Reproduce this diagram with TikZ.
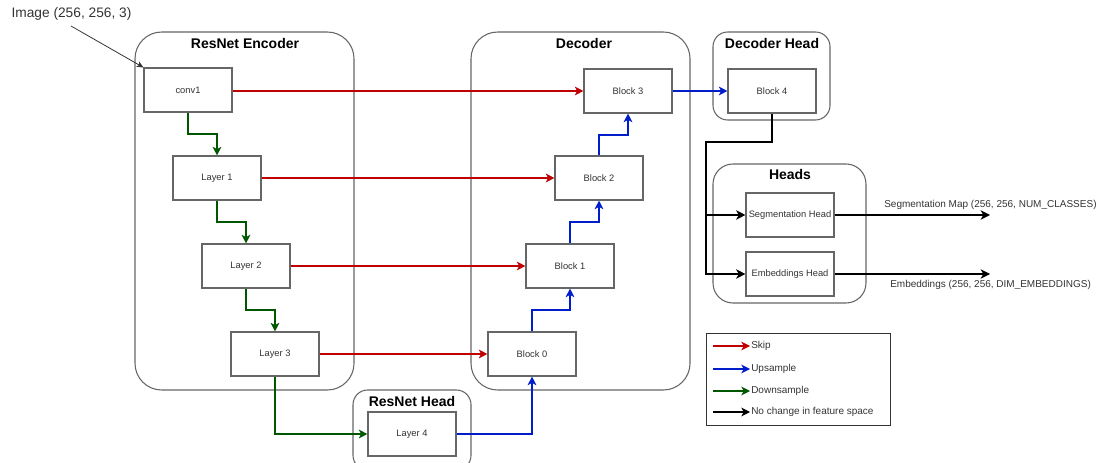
\documentclass[tikz,border=0pt]{standalone}
\usepackage{fontspec}
\setmainfont{Liberation Sans}
\usetikzlibrary{arrows.meta}
\definecolor{skipred}{HTML}{C00000}
\definecolor{upblue}{HTML}{001DCC}
\definecolor{downgreen}{HTML}{005700}
\definecolor{edge}{HTML}{666666}
\tikzset{
  block/.style={draw=edge, line width=0.8pt, fill=white, minimum width=66pt, minimum height=33pt,
    inner sep=0pt, font=\fontsize{7}{8}\selectfont, text=black!80},
  group/.style={draw=edge, line width=0.8pt, inner sep=0pt},
  title/.style={font=\fontsize{10.5}{12}\selectfont\bfseries, inner sep=0pt},
  label/.style={font=\fontsize{7.5}{9}\selectfont, text=black!80, inner sep=0pt},
  tip/.style={-{Stealth[length=6.5pt,width=6.5pt,inset=1.8pt]}},
  skip/.style={tip, draw=skipred, line width=1.1pt},
  up/.style={tip, draw=upblue, line width=1.1pt},
  down/.style={tip, draw=downgreen, line width=1.1pt},
  same/.style={-{Stealth[length=7pt,width=7pt,inset=2pt]}, draw=black, line width=1.5pt},
}
\begin{document}
\begin{tikzpicture}[x=0.75pt, y=-0.75pt]
\useasboundingbox (0,0) rectangle (1106,463);

% group containers
\node[group, rounded corners=20pt, minimum width=164.25pt, minimum height=268.5pt] (enc) at (244.5,211) {};
\node[group, rounded corners=20pt, minimum width=164.25pt, minimum height=268.5pt] (dec) at (580.5,211) {};
\node[group, rounded corners=11pt, minimum width=87.75pt, minimum height=66pt] (dhead) at (771.5,76) {};
\node[group, rounded corners=15pt, minimum width=114.75pt, minimum height=104.25pt] (heads) at (789.5,233.5) {};
\node[group, rounded corners=11pt, minimum width=88.5pt, minimum height=60pt] (rhead) at (412,430) {};

\node[title] (enct) at (245,43) {ResNet Encoder};
\node[title] (dect) at (584,43) {Decoder};
\node[title] (dheadt) at (772,43) {Decoder Head};
\node[title] (headst) at (790,174) {Heads};
\node[title] (rheadt) at (412,401) {ResNet Head};

% encoder blocks
\node[block] (conv1) at (188,90) {conv1};
\node[block] (l1) at (217,178) {Layer 1};
\node[block] (l2) at (246,266) {Layer 2};
\node[block] (l3) at (275,354) {Layer 3};
\node[block] (l4) at (412,434) {Layer 4};

% decoder blocks
\node[block] (b0) at (532,354) {Block 0};
\node[block] (b1) at (570,266) {Block 1};
\node[block] (b2) at (599,178) {Block 2};
\node[block] (b3) at (628,91) {Block 3};
\node[block] (b4) at (772,91) {Block 4};

% output heads
\node[block] (seg) at (790,215) {Segmentation Head};
\node[block] (emb) at (790,274) {Embeddings Head};

% input
\node[font=\fontsize{10.3}{12}\selectfont, text=black!80, inner sep=0pt] (img) at (71.5,14) {Image (256, 256, 3)};
\draw[-{Stealth[length=5pt,width=4.5pt,inset=1.3pt]}, line width=0.6pt, black!80] (71,26) -- (conv1.north west);

% downsampling path
\draw[down] (conv1.south) |- (202,134) -| (l1.north);
\draw[down] (l1.south) |- (231,222) -| (l2.north);
\draw[down] (l2.south) |- (260,310) -| (l3.north);
\draw[down] (l3.south) |- (l4.west);

% upsampling path
\draw[up] (l4.east) -| (b0.south);
\draw[up] (b0.north) |- (551,310) -| (b1.south);
\draw[up] (b1.north) |- (584,222) -| (b2.south);
\draw[up] (b2.north) |- (613,135) -| (b3.south);
\draw[up] (b3.east) -- (b4.west);

% skip connections
\draw[skip] (conv1.east |- b3.west) -- (b3.west);
\draw[skip] (l1.east) -- (b2.west);
\draw[skip] (l2.east) -- (b1.west);
\draw[skip] (l3.east) -- (b0.west);

% heads
\coordinate (split) at (706,142);
\coordinate (segout) at (990,215);
\coordinate (embout) at (990,274);
\draw[same] (b4.south) |- (split) |- (seg.west);
\draw[same] (split) |- (emb.west);
\draw[same] (seg.east) -- (segout);
\draw[same] (emb.east) -- (embout);
\node[label, anchor=west] (segl) at (884,205) {Segmentation Map (256, 256, NUM\_CLASSES)};
\node[label, anchor=west] (embl) at (890,285) {Embeddings (256, 256, DIM\_EMBEDDINGS)};

% legend
\node[draw=black!80, line width=0.6pt, minimum width=138pt, minimum height=69pt, inner sep=0pt] (legend) at (798,379) {};
\coordinate (ka) at (713,346); \coordinate (kb) at (750,346);
\coordinate (kc) at (713,369); \coordinate (kd) at (750,369);
\coordinate (ke) at (713,391); \coordinate (kf) at (750,391);
\coordinate (kg) at (713,412); \coordinate (kh) at (750,412);
\draw[skip] (ka) -- (kb);
\draw[up] (kc) -- (kd);
\draw[down] (ke) -- (kf);
\draw[tip, line width=1.1pt] (kg) -- (kh);
\node[label, anchor=west] (lska) at (751,346) {Skip};
\node[label, anchor=west] (lup) at (751,369) {Upsample};
\node[label, anchor=west] (ldn) at (751,391) {Downsample};
\node[label, anchor=west] (lsm) at (751,412) {No change in feature space};
\end{tikzpicture}
\end{document}
